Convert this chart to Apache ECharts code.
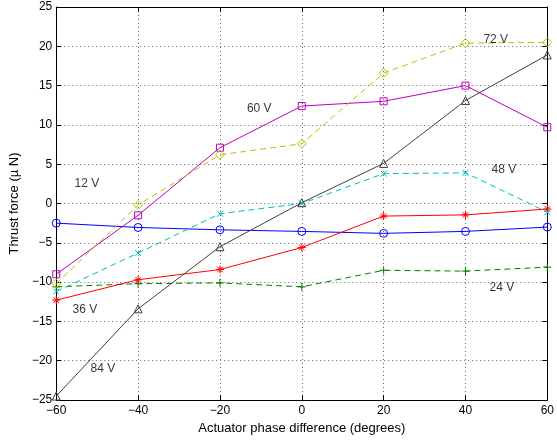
<!DOCTYPE html>
<html>
<head>
<meta charset="utf-8">
<script src="https://cdn.jsdelivr.net/npm/echarts@6/dist/echarts.min.js"></script>
<style>
  html, body {margin: 0; padding: 0; background: #fff;}
  #chart {width: 557px; height: 445px;}
</style>
</head>
<body>
<div id="chart"></div>
<script>
// phase difference (degrees)
const phase = [-60, -40, -20, 0, 20, 40, 60]

// thrust force (µN) per drive voltage
const v12 = [-2.5, -3.05, -3.35, -3.55, -3.8, -3.55, -3.0]
const v24 = [-10.6, -10.2, -10.1, -10.6, -8.5, -8.6, -8.1]
const v36 = [-12.3, -9.7, -8.4, -5.6, -1.6, -1.45, -0.7]
const v48 = [-11.2, -6.3, -1.3, 0.0, 3.8, 3.9, -1.1]
const v60 = [-9.0, -1.5, 7.1, 12.4, 13.0, 15.0, 9.7]
const v72 = [-10.2, -0.2, 6.2, 7.6, 16.6, 20.4, 20.5]
const v84 = [-24.5, -13.4, -5.5, 0.1, 5.1, 13.1, 18.9]

// text labels next to the curves: [x, y, text]
const curveLabels = [
  [-52.5, 2.5, '12 V'],
  [48.9, -10.7, '24 V'],
  [-53, -13.5, '36 V'],
  [49.4, 4.3, '48 V'],
  [-10.4, 12.0, '60 V'],
  [47.4, 20.9, '72 V'],
  [-48.6, -21.0, '84 V'],
]

const xTicks = {min: -60, max: 60, interval: 20}
const yTicks = {min: -25, max: 25, interval: 5}

const FONT = 'Liberation Sans'
const minus = v => String(v).replace('-', '\u2212')

// outline symbols, drawn as strokes
const sym = {
  circle: 'path://M5,0A5,5 0 1 1 5,10A5,5 0 1 1 5,0Z',
  square: 'path://M0,0L10,0L10,10L0,10Z',
  diamond: 'path://M5,0L10,5L5,10L0,5Z',
  triangle: 'path://M5,0L10,9L0,9Z',
  plus: 'path://M0,5L10,5M5,0L5,10',
  cross: 'path://M0,0L10,10M0,10L10,0',
  star: 'path://M0,5L10,5M5,0L5,10M1.5,1.5L8.5,8.5M1.5,8.5L8.5,1.5',
}

function makeSeries(name, values, color, dashed, symbol, size) {
  return {
    name: name,
    type: 'line',
    data: phase.map((p, i) => [p, values[i]]),
    symbol: symbol,
    symbolSize: size,
    showAllSymbol: true,
    lineStyle: {color: color, width: 1, type: dashed ? [6, 4] : 'solid'},
    itemStyle: {color: 'rgba(0,0,0,0)', borderColor: color, borderWidth: 1},
    emphasis: {disabled: true},
    z: 3,
  }
}

const chart = echarts.init(document.getElementById('chart'))

const axisLine = {show: true, onZero: false, lineStyle: {color: '#000', width: 1}}
const inTick = {show: true, inside: true, length: 5, lineStyle: {color: '#000'}}
const gridLine = {show: true, lineStyle: {color: '#666', type: [1, 3], width: 1}}
const labelStyle = {color: '#000', fontFamily: FONT, fontSize: 12}
const titleStyle = {color: '#000', fontFamily: FONT, fontSize: 13}

chart.setOption({
  animation: false,
  backgroundColor: '#fff',
  grid: {left: 53, right: 8, top: 7, bottom: 45, containLabel: false},
  xAxis: [
    {
      type: 'value', ...xTicks, position: 'bottom',
      name: 'Actuator phase difference (degrees)',
      nameLocation: 'middle', nameGap: 21, nameTextStyle: titleStyle,
      axisLine: axisLine, axisTick: inTick, splitLine: gridLine,
      axisLabel: {...labelStyle, margin: 5, formatter: minus},
    },
    {
      type: 'value', ...xTicks, position: 'top',
      axisLine: axisLine, axisTick: inTick, splitLine: {show: false},
      axisLabel: {show: false},
    },
  ],
  yAxis: [
    {
      type: 'value', ...yTicks, position: 'left',
      name: 'Thrust force (\u00b5 N)',
      nameLocation: 'middle', nameGap: 29, nameTextStyle: titleStyle,
      axisLine: axisLine, axisTick: inTick, splitLine: gridLine,
      axisLabel: {...labelStyle, margin: 4, formatter: minus},
    },
    {
      type: 'value', ...yTicks, position: 'right',
      axisLine: axisLine, axisTick: inTick, splitLine: {show: false},
      axisLabel: {show: false},
    },
  ],
  series: [
    makeSeries('12 V', v12, '#0000ff', false, sym.circle, 8),
    makeSeries('24 V', v24, '#008000', true, sym.plus, 8),
    makeSeries('36 V', v36, '#ff0000', false, sym.star, 8),
    makeSeries('48 V', v48, '#00bfbf', true, sym.cross, 6),
    makeSeries('60 V', v60, '#bf00bf', false, sym.square, 7),
    makeSeries('72 V', v72, '#bfbf00', true, sym.diamond, 9),
    makeSeries('84 V', v84, '#404040', false, sym.triangle, 8),
    {
      type: 'scatter',
      data: curveLabels.map(d => ({value: [d[0], d[1]], name: d[2]})),
      symbolSize: 1,
      itemStyle: {color: 'rgba(0,0,0,0)'},
      label: {
        show: true, position: 'inside', formatter: '{b}',
        color: '#000', fontFamily: FONT, fontSize: 12,
      },
      emphasis: {disabled: true},
      z: 5,
    },
  ],
})
</script>
</body>
</html>
